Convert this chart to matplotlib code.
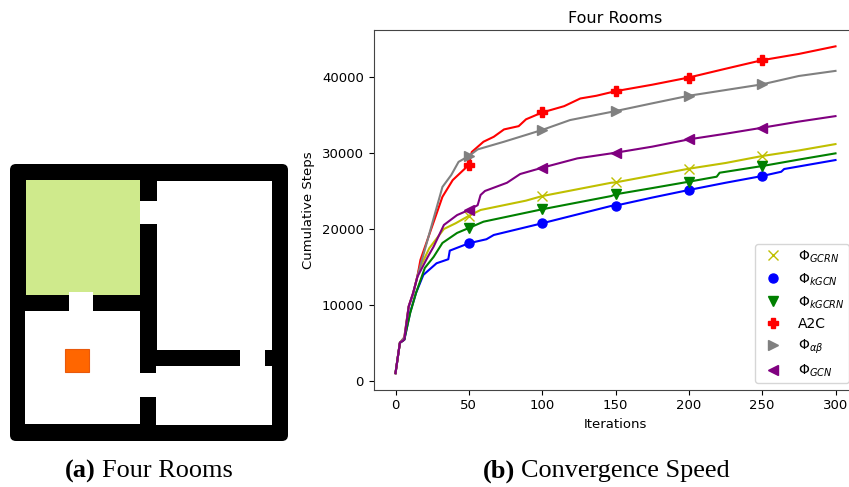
import matplotlib.pyplot as plt
from matplotlib.patches import Rectangle, FancyBboxPatch

# values
iter_a2c = [0, 3, 6, 9, 12, 15, 17, 32, 39, 50, 52, 60, 67, 74, 84, 89, 100, 115, 126, 137, 150, 175, 200, 225, 250, 275, 300]
steps_a2c = [1000, 5000, 5700, 9800, 11500, 13800, 15900, 24200, 26400, 28400, 30100, 31450, 32100, 33070, 33500, 34400, 35300, 36130, 37140, 37500, 38100, 38950, 39900, 41050, 42180, 43000, 44000]

iter_ab = [0, 3, 6, 9, 12, 15, 32, 38, 43, 50, 56, 74, 100, 119, 150, 175, 200, 225, 250, 275, 300]
steps_ab = [1000, 5000, 5700, 9800, 11500, 13800, 25500, 27070, 28800, 29570, 30440, 31450, 33000, 34300, 35480, 36500, 37500, 38250, 39000, 40100, 40770]

iter_gcn = [0, 3, 6, 9, 12, 15, 22, 26, 33, 42, 50, 56, 58, 61, 76, 85, 100, 124, 150, 175, 200, 225, 250, 275, 300]
steps_gcn = [1000, 5000, 5400, 9770, 11550, 13700, 16300, 17650, 20500, 21800, 22470, 23100, 24440, 24970, 26050, 27200, 28030, 29260, 30000, 30800, 31760, 32500, 33290, 34100, 34820]

iter_gcrn = [0, 3, 6, 9, 12, 16, 23, 33, 41, 50, 58, 89, 100, 147, 150, 175, 200, 225, 250, 275, 300]
steps_gcrn = [1000, 5000, 5400, 9700, 11400, 14590, 17430, 19970, 20720, 21700, 22470, 23700, 24300, 26050, 26100, 27000, 27900, 28650, 29570, 30300, 31140]

iter_kgcrn = [0, 3, 6, 10, 14, 20, 26, 32, 42, 50, 60, 100, 147, 150, 175, 200, 219, 221, 250, 275, 300]
steps_kgcrn = [1000, 5000, 5400, 8900, 11560, 14850, 16300, 18130, 19450, 20100, 20930, 22560, 24300, 24530, 25350, 26190, 26850, 27370, 28250, 29100, 29920]

iter_kgcn = [0, 3, 6, 10, 14, 19, 28, 36, 37, 50, 62, 67, 100, 147, 150, 175, 200, 225, 250, 263, 265, 300]
steps_kgcn = [1000, 5000, 5400, 9000, 11560, 13930, 15460, 15990, 17120, 18090, 18620, 19180, 20720, 23000, 23040, 24100, 25100, 26050, 26940, 27500, 27860, 29040]

mark_iters = [50, 100, 150, 200, 250]
x_ticks = [0, 50, 100, 150, 200, 250, 300]
y_ticks = [0, 10000, 20000, 30000, 40000]

W, H = 849, 487
fig = plt.figure(figsize=(W / 100, H / 100), dpi=100)

# page layer in pixel coordinates, holds the room drawing and the captions
page = fig.add_axes([0, 0, 1, 1])
page.set_xlim(0, W)
page.set_ylim(H, 0)
page.axis('off')


def room(x0, y0, x1, y1, color='white', **kw):
    page.add_patch(Rectangle((x0, y0), x1 - x0, y1 - y0, facecolor=color, edgecolor='none', **kw))


page.add_patch(FancyBboxPatch((15, 169), 268, 267, boxstyle='round,pad=5,rounding_size=6',
                              facecolor='black', edgecolor='none'))
room(26, 180, 140.5, 294.5, color='#cfea8c')
room(157, 180.5, 272, 350)
room(25.5, 310.5, 140, 424)
room(156.5, 366, 272, 425)
# doors
room(140, 200.5, 157, 224)
room(69.5, 292, 93.5, 310.5)
room(140, 372.5, 157, 397)
room(240.5, 350, 265.5, 366)
# agent
page.add_patch(Rectangle((65.5, 348.5), 23.5, 23, facecolor='#ff6600', edgecolor='#e8590c', linewidth=0.8))

serif = 'Liberation Serif'
page.text(96, 471, '(a)', family=serif, weight='bold', fontsize=18.9, ha='right', va='center')
page.text(102, 471, 'Four Rooms', family=serif, fontsize=18.9, ha='left', va='center')
page.text(515, 471, '(b)', family=serif, weight='bold', fontsize=18.9, ha='right', va='center')
page.text(521, 471, 'Convergence Speed', family=serif, fontsize=18.9, ha='left', va='center')

# the plot runs past the right edge of the figure, as in the cropped original
ax = fig.add_axes([373.5 / W, 1 - 389.5 / H, 484 / W, 359.5 / H])

series = [
    (iter_gcrn, steps_gcrn, 'y', 'x', r'$\Phi_{GCRN}$'),
    (iter_kgcn, steps_kgcn, 'b', 'o', r'$\Phi_{kGCN}$'),
    (iter_kgcrn, steps_kgcrn, 'g', 'v', r'$\Phi_{kGCRN}$'),
    (iter_a2c, steps_a2c, 'r', 'P', 'A2C'),
    (iter_ab, steps_ab, 'gray', '>', r'$\Phi_{\alpha\beta}$'),
    (iter_gcn, steps_gcn, 'purple', '<', r'$\Phi_{GCN}$'),
]

for xs, ys, color, marker, label in series:
    ax.plot(xs, ys, color=color, linewidth=1.5)
    idx = [xs.index(m) for m in mark_iters]
    ax.plot([xs[i] for i in idx], [ys[i] for i in idx], linestyle='none', color=color,
            marker=marker, markersize=6.5, label=label)

ax.set_xlim(-15, 315)
ax.set_ylim(-1150, 46150)
ax.set_xticks(x_ticks)
ax.set_yticks(y_ticks)
ax.tick_params(labelsize=9.5)
ax.set_title('Four Rooms', fontsize=11.5, pad=5)
ax.set_xlabel('Iterations', fontsize=9.5, labelpad=4)
ax.set_ylabel('Cumulative Steps', fontsize=9.5, labelpad=5)
for s in ax.spines.values():
    s.set_color('#444444')

ax.legend(loc='lower right', bbox_to_anchor=(849 / W, 1 - 383 / H), bbox_transform=fig.transFigure,
          fontsize=10, labelspacing=0.47, borderaxespad=0, handletextpad=0.8, borderpad=0.3)

fig.savefig('out.png', dpi=100)
